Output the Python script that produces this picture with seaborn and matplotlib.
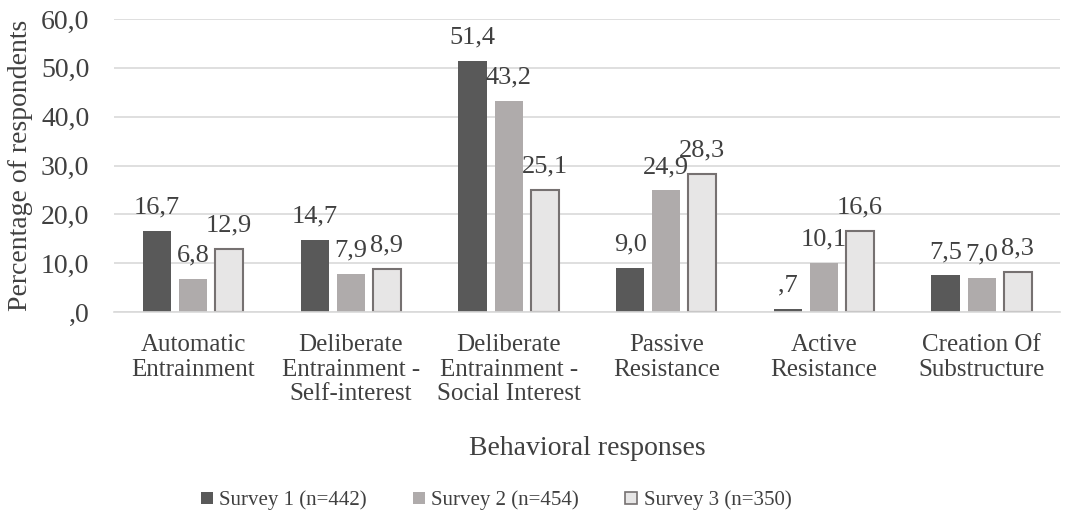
import matplotlib
matplotlib.use('Agg')
import matplotlib.pyplot as plt
from matplotlib.lines import Line2D
import seaborn as sns
import pandas as pd

categories = ['Automatic\nEntrainment', 'Deliberate\nEntrainment -\nSelf-interest',
              'Deliberate\nEntrainment -\nSocial Interest', 'Passive\nResistance',
              'Active\nResistance', 'Creation Of\nSubstructure']
surveys = ['Survey 1 (n=442)', 'Survey 2 (n=454)', 'Survey 3 (n=350)']
survey1 = [16.7, 14.7, 51.4, 9.0, 0.7, 7.5]
survey2 = [6.8, 7.9, 43.2, 24.9, 10.1, 7.0]
survey3 = [12.9, 8.9, 25.1, 28.3, 16.6, 8.3]
yticks = [0, 10, 20, 30, 40, 50, 60]

colors = ['#595959', '#AFABAB', '#E7E6E6']
edges = ['#595959', '#AFABAB', '#767171']


def fmt(v):
    s = f'{v:.1f}'.replace('.', ',')
    if s.startswith('0'):
        s = s[1:]
    return s


def main():
    sns.set_style('white')
    plt.rcParams['font.family'] = ['Liberation Serif', 'DejaVu Serif']

    df = pd.DataFrame({
        'category': categories * 3,
        'survey': [s for s in surveys for _ in categories],
        'value': survey1 + survey2 + survey3,
    })

    fig, ax = plt.subplots(figsize=(10.69, 5.29), dpi=100)
    fig.subplots_adjust(left=0.107, right=0.992, top=0.964, bottom=0.41)

    sns.barplot(data=df, x='category', y='value', hue='survey', order=categories,
                hue_order=surveys, palette=colors, width=0.686, gap=0.22,
                legend=False, ax=ax, saturation=1)

    # рамки и подписи значений
    for i, cont in enumerate(ax.containers):
        for bar in cont:
            bar.set_edgecolor(edges[i])
            bar.set_linewidth(1.5 if i == 2 else 0)
        ax.bar_label(cont, labels=[fmt(v) for v in cont.datavalues],
                     padding=9, fontsize=19, color='#404040')

    ax.set_ylim(0, 60)
    ax.set_xlim(-0.5, 5.5)
    ax.set_yticks(yticks)
    ax.set_yticklabels([fmt(v) for v in yticks])
    ax.yaxis.grid(True, color='#D9D9D9', linewidth=1.2)
    ax.set_axisbelow(True)
    for s in ['top', 'right', 'left']:
        ax.spines[s].set_visible(False)
    ax.spines['bottom'].set_color('#D9D9D9')
    ax.spines['bottom'].set_linewidth(1.2)
    ax.tick_params(axis='x', length=0, labelsize=18, colors='#404040', pad=16)
    ax.tick_params(axis='y', length=0, labelsize=20, colors='#404040', pad=18)
    for lbl in ax.get_xticklabels():
        lbl.set_linespacing(1.15)

    ax.set_xlabel('Behavioral responses', fontsize=20, color='#404040', labelpad=22)
    ax.set_ylabel('Percentage of respondents', fontsize=20, color='#404040', labelpad=6)

    handles = [Line2D([], [], marker='s', linestyle='', markersize=8,
                      markerfacecolor=colors[i], markeredgecolor=edges[i],
                      markeredgewidth=1.2 if i == 2 else 0) for i in range(3)]
    fig.legend(handles, surveys, loc='lower center', bbox_to_anchor=(0.462, 0.0),
               ncol=3, frameon=False, fontsize=15, handletextpad=0.1,
               columnspacing=2.0, handlelength=1.0, labelcolor='#404040')

    fig.savefig('out.png', dpi=100)


if __name__ == '__main__':
    main()
